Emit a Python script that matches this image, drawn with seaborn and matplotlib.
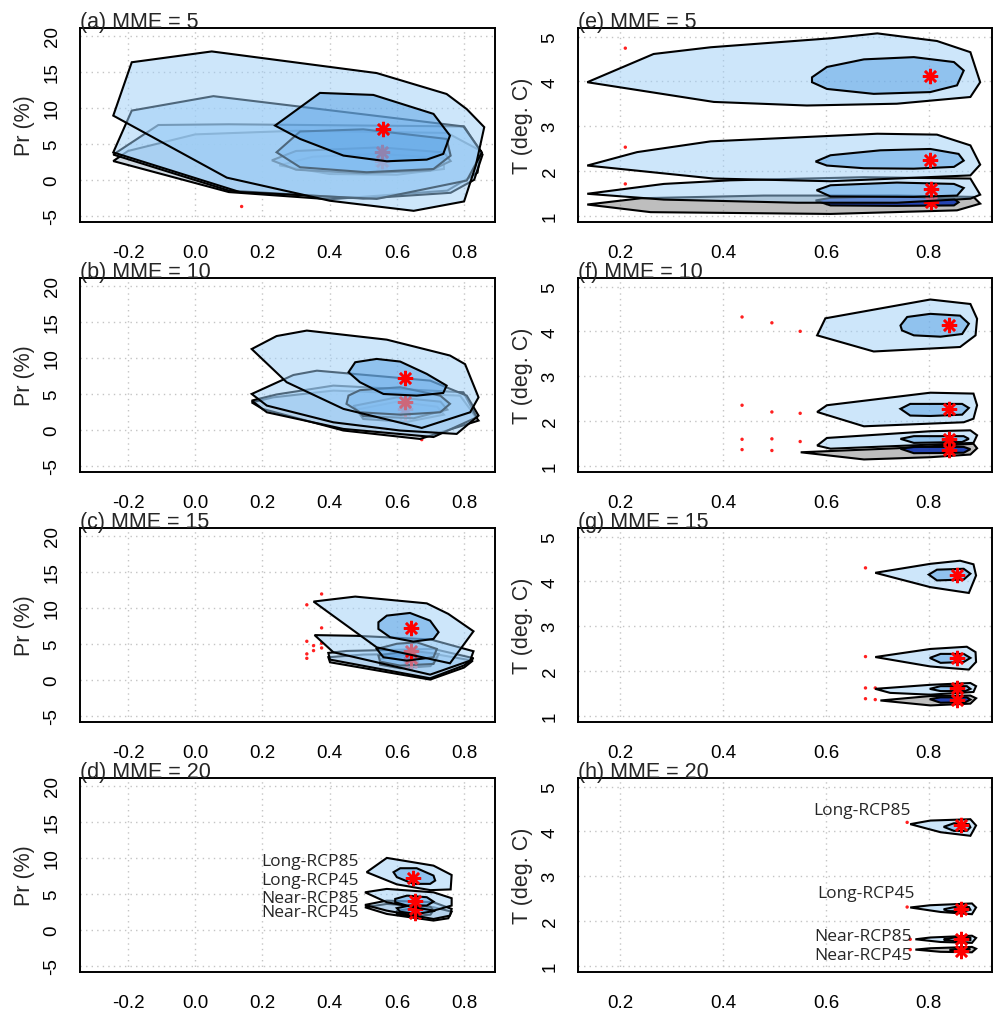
import matplotlib
matplotlib.use("Agg")
import matplotlib.pyplot as plt
import seaborn as sns
import pandas as pd
from matplotlib.colors import to_rgba

# ---------------- DATA ----------------
scenarios = ["Near-RCP45", "Near-RCP85", "Long-RCP45", "Long-RCP85"]
mme_sizes = [5, 10, 15, 20]
pr_letters = ["a", "b", "c", "d"]
t_letters = ["e", "f", "g", "h"]

pr_xticks = [-0.2, 0.0, 0.2, 0.4, 0.6, 0.8]
pr_xticklabels = ["-0.2", "0.0", "0.2", "0.4", "0.6", "0.8"]
pr_yticks = [-5, 0, 5, 10, 15, 20]
pr_yticklabels = ["-5", "0", "5", "10", "15", "20"]
t_xticks = [0.2, 0.4, 0.6, 0.8]
t_xticklabels = ["0.2", "0.4", "0.6", "0.8"]
t_yticks = [1, 2, 3, 4, 5]
t_yticklabels = ["1", "2", "3", "4", "5"]

# ---- (a) Pr, MME = 5 ----
A_L85_OUT = [(-0.244, 8.9), (-0.189, 16.3), (0.049, 17.8), (0.54, 14.8), (0.748, 11.9), (0.808, 9.8),
             (0.86, 7.3), (0.835, 2.0), (0.8, -3.0), (0.65, -4.3), (0.4, -2.9), (0.094, 0.3)]
A_L85_IN = [(0.2375, 7.52), (0.371, 12.05), (0.53, 11.77), (0.709, 9.14), (0.758, 6.13), (0.738, 3.59),
            (0.689, 2.8), (0.57, 2.57), (0.441, 3.36), (0.312, 5.67)]
A_L45_OUT = [(-0.244, 3.8), (-0.189, 9.6), (0.054, 11.6), (0.798, 7.4), (0.853, 3.8), (0.808, -0.1),
             (0.54, -2.65), (0.133, -1.7)]
A_L45_IN = [(0.242, 3.82), (0.312, 6.7), (0.5, 7.0), (0.748, 5.67), (0.76, 3.35), (0.709, 1.5),
            (0.51, 1.05), (0.312, 1.74)]
A_N85_OUT = [(-0.244, 3.5), (-0.11, 7.6), (0.1, 7.7), (0.8, 7.4), (0.855, 3.5), (0.83, 0.0),
             (0.76, -1.8), (0.5, -2.6), (0.1, -1.5)]
A_N85_IN = [(0.228, 2.7), (0.3, 4.0), (0.55, 4.5), (0.74, 3.8), (0.76, 2.6), (0.7, 1.3), (0.5, 0.9), (0.3, 1.4)]
A_N45_OUT = [(-0.244, 2.6), (-0.2, 4.0), (0.0, 6.3), (0.3, 6.8), (0.75, 6.5), (0.85, 4.0), (0.84, 1.0),
             (0.75, -1.5), (0.4, -2.7), (0.1, -1.7)]
A_N45_IN = [(0.25, 2.0), (0.35, 3.2), (0.55, 3.6), (0.74, 3.0), (0.74, 1.5), (0.6, 0.7), (0.4, 0.8)]
A_STAR_X = [0.555, 0.555, 0.555, 0.56]
A_STAR_Y = [2.1, 2.6, 3.8, 7.05]
A_DOT_X = [0.138]
A_DOT_Y = [-3.7]

# ---- (b) Pr, MME = 10 ----
B_L85_OUT = [(0.168, 11.2), (0.242, 13.0), (0.332, 13.76), (0.57, 12.5), (0.758, 10.3), (0.803, 9.1),
             (0.843, 4.5), (0.818, 2.43), (0.674, 0.26), (0.441, 2.9), (0.272, 6.6)]
B_L85_IN = [(0.456, 7.98), (0.476, 9.37), (0.54, 9.83), (0.61, 9.46), (0.689, 7.75), (0.748, 6.13),
            (0.738, 5.11), (0.659, 4.74), (0.56, 4.97), (0.49, 6.6)]
B_L45_OUT = [(0.168, 4.97), (0.292, 7.6), (0.362, 8.2), (0.699, 6.82), (0.808, 4.74), (0.843, 1.97),
             (0.778, -0.57), (0.61, -0.1), (0.411, 1.04), (0.213, 3.36)]
B_L45_IN = [(0.456, 4.74), (0.49, 5.5), (0.61, 5.9), (0.729, 4.74), (0.758, 3.6), (0.729, 2.43),
            (0.61, 2.1), (0.49, 2.43), (0.45, 3.6)]
B_N85_OUT = [(0.168, 4.05), (0.242, 4.9), (0.411, 6.13), (0.798, 5.2), (0.838, 1.74), (0.709, -1.0),
             (0.441, 0.12), (0.213, 2.43)]
B_N85_IN = [(0.47, 3.3), (0.6, 4.5), (0.73, 3.9), (0.75, 2.8), (0.65, 1.6), (0.5, 1.9)]
B_N45_OUT = [(0.168, 3.8), (0.232, 4.5), (0.411, 5.44), (0.788, 4.74), (0.843, 1.28), (0.669, -1.27),
             (0.441, -0.1), (0.2, 2.9)]
B_N45_IN = [(0.48, 2.8), (0.6, 3.9), (0.72, 3.2), (0.74, 2.1), (0.63, 1.1), (0.5, 1.5)]
B_STAR_X = [0.624, 0.624, 0.624, 0.624]
B_STAR_Y = [2.4, 2.9, 3.9, 7.15]
B_DOT_X = [0.674]
B_DOT_Y = [-1.36]

# ---- (c) Pr, MME = 15 ----
C_L85_OUT = [(0.352, 10.85), (0.476, 11.54), (0.689, 10.6), (0.753, 9.14), (0.828, 6.73), (0.758, 2.29),
             (0.54, 4.5)]
C_L85_IN = [(0.545, 7.98), (0.57, 8.9), (0.639, 9.27), (0.699, 8.2), (0.724, 6.6), (0.709, 5.67),
            (0.649, 5.3), (0.58, 5.9), (0.545, 7.05)]
C_L45_OUT = [(0.355, 6.2), (0.48, 6.1), (0.7, 5.6), (0.828, 3.96), (0.818, 2.66), (0.699, 0.72), (0.411, 3.82)]
C_L45_IN = [(0.54, 4.28), (0.6, 5.0), (0.659, 5.2), (0.719, 4.28), (0.709, 3.13), (0.629, 2.66), (0.56, 3.13)]
C_N85_OUT = [(0.396, 3.73), (0.45, 4.0), (0.709, 4.28), (0.828, 3.0), (0.8, 2.0), (0.699, 0.21), (0.401, 2.8)]
C_N85_IN = [(0.545, 3.36), (0.639, 4.05), (0.724, 3.59), (0.709, 2.2), (0.61, 1.97), (0.55, 2.52)]
C_N45_OUT = [(0.396, 3.13), (0.5, 3.5), (0.709, 3.6), (0.826, 2.66), (0.8, 1.7), (0.699, 0.03), (0.401, 2.43)]
C_N45_IN = [(0.55, 2.9), (0.64, 3.6), (0.72, 3.1), (0.7, 1.9), (0.61, 1.6), (0.55, 2.1)]
C_STAR_X = [0.642, 0.642, 0.642, 0.642]
C_STAR_Y = [2.5, 3.0, 4.05, 7.2]
C_DOT_X = [0.332, 0.376, 0.376, 0.332, 0.352, 0.352, 0.376, 0.376, 0.332, 0.332]
C_DOT_Y = [10.4, 11.9, 7.2, 5.34, 4.74, 4.05, 5.07, 4.42, 3.59, 2.98]

# ---- (d) Pr, MME = 20 ----
D_L85_OUT = [(0.51, 7.99), (0.57, 9.97), (0.709, 8.9), (0.763, 7.6), (0.76, 5.6), (0.7, 5.5), (0.6, 6.3)]
D_L85_IN = [(0.59, 7.99), (0.61, 8.54), (0.659, 8.54), (0.709, 7.52), (0.714, 6.83), (0.699, 6.37),
            (0.649, 6.37), (0.6, 7.3)]
D_L45_OUT = [(0.505, 5.2), (0.57, 5.67), (0.709, 5.2), (0.763, 4.38), (0.763, 3.36), (0.709, 2.66), (0.57, 3.82)]
D_L45_IN = [(0.595, 4.28), (0.63, 4.74), (0.689, 4.52), (0.709, 3.91), (0.689, 3.36), (0.63, 3.36), (0.595, 3.82)]
D_N85_OUT = [(0.505, 3.45), (0.57, 4.05), (0.709, 3.82), (0.763, 2.9), (0.758, 1.97), (0.709, 1.5), (0.57, 2.66)]
D_N85_IN = [(0.6, 3.0), (0.65, 3.5), (0.7, 3.2), (0.71, 2.6), (0.66, 2.2), (0.61, 2.5)]
D_N45_OUT = [(0.505, 3.13), (0.57, 3.59), (0.709, 3.13), (0.763, 2.52), (0.753, 1.6), (0.709, 1.28), (0.57, 2.2)]
D_N45_IN = [(0.6, 2.6), (0.66, 3.1), (0.71, 2.8), (0.7, 2.1), (0.64, 1.9), (0.6, 2.2)]
D_STAR_X = [0.654, 0.654, 0.654, 0.647]
D_STAR_Y = [2.3, 2.9, 4.05, 7.15]
D_DOT_X = []
D_DOT_Y = []
D_LABEL_X = [0.487, 0.487, 0.487, 0.487]
D_LABEL_Y = [2.45, 4.4, 6.9, 9.6]

# ---- (e) T, MME = 5 ----
E_L85_OUT = [(0.136, 3.98), (0.265, 4.61), (0.376, 4.76), (0.609, 4.96), (0.7, 5.07), (0.816, 4.9),
             (0.881, 4.65), (0.9, 3.98), (0.881, 3.65), (0.738, 3.5), (0.563, 3.46), (0.382, 3.54)]
E_L85_IN = [(0.573, 4.09), (0.602, 4.32), (0.674, 4.49), (0.771, 4.54), (0.849, 4.43), (0.868, 4.24),
            (0.855, 3.91), (0.803, 3.76), (0.693, 3.72), (0.602, 3.83), (0.573, 3.98)]
E_L45_OUT = [(0.136, 2.12), (0.233, 2.42), (0.376, 2.66), (0.7, 2.83), (0.816, 2.81), (0.881, 2.57),
             (0.9, 2.14), (0.881, 1.9), (0.609, 1.77), (0.382, 1.83)]
E_L45_IN = [(0.58, 2.21), (0.609, 2.35), (0.706, 2.46), (0.803, 2.49), (0.858, 2.38), (0.868, 2.23),
            (0.849, 2.09), (0.771, 2.05), (0.674, 2.06), (0.602, 2.12)]
E_N85_OUT = [(0.136, 1.49), (0.285, 1.71), (0.414, 1.79), (0.674, 1.86), (0.881, 1.83), (0.9, 1.47),
             (0.881, 1.38), (0.738, 1.29), (0.544, 1.29), (0.285, 1.36)]
E_N85_IN = [(0.582, 1.57), (0.609, 1.68), (0.738, 1.74), (0.849, 1.71), (0.868, 1.62), (0.855, 1.45),
            (0.771, 1.42), (0.609, 1.43)]
E_N45_OUT = [(0.136, 1.25), (0.24, 1.39), (0.479, 1.45), (0.738, 1.45), (0.887, 1.42), (0.9, 1.27),
             (0.855, 1.12), (0.609, 1.04), (0.259, 1.08)]
E_N45_IN = [(0.58, 1.34), (0.609, 1.4), (0.738, 1.44), (0.849, 1.38), (0.858, 1.3), (0.849, 1.23),
            (0.738, 1.22), (0.609, 1.23)]
E_STAR_X = [0.805, 0.805, 0.803, 0.803]
E_STAR_Y = [1.3, 1.6, 2.25, 4.12]
E_DOT_X = [0.21, 0.21, 0.21]
E_DOT_Y = [4.74, 2.53, 1.71]

# ---- (f) T, MME = 10 ----
F_L85_OUT = [(0.583, 3.91), (0.599, 4.29), (0.803, 4.71), (0.881, 4.61), (0.894, 4.28), (0.891, 3.91),
             (0.861, 3.65), (0.693, 3.55)]
F_L85_IN = [(0.745, 4.13), (0.758, 4.32), (0.803, 4.39), (0.861, 4.35), (0.878, 4.17), (0.865, 3.94),
            (0.823, 3.88), (0.771, 3.91), (0.748, 4.02)]
F_L45_OUT = [(0.583, 2.2), (0.602, 2.35), (0.803, 2.63), (0.887, 2.61), (0.894, 2.35), (0.887, 2.05),
             (0.868, 1.97), (0.674, 1.88)]
F_L45_IN = [(0.745, 2.27), (0.764, 2.38), (0.865, 2.38), (0.878, 2.29), (0.865, 2.14), (0.803, 2.11), (0.764, 2.12)]
F_N85_OUT = [(0.583, 1.45), (0.602, 1.62), (0.803, 1.77), (0.881, 1.79), (0.894, 1.68), (0.887, 1.51), (0.609, 1.38)]
F_N85_IN = [(0.745, 1.6), (0.771, 1.66), (0.868, 1.66), (0.878, 1.6), (0.865, 1.53), (0.771, 1.51)]
F_N45_OUT = [(0.551, 1.3), (0.738, 1.39), (0.887, 1.49), (0.894, 1.39), (0.881, 1.25), (0.803, 1.19), (0.674, 1.14)]
F_N45_IN = [(0.745, 1.38), (0.771, 1.42), (0.868, 1.42), (0.881, 1.37), (0.868, 1.29), (0.771, 1.28)]
F_STAR_X = [0.839, 0.839, 0.839, 0.839]
F_STAR_Y = [1.34, 1.6, 2.27, 4.14]
F_DOT_X = [0.437, 0.437, 0.437, 0.437, 0.495, 0.495, 0.495, 0.495, 0.55, 0.55, 0.55]
F_DOT_Y = [4.32, 2.35, 1.59, 1.36, 4.19, 2.2, 1.6, 1.34, 4.0, 2.17, 1.54]

# ---- (g) T, MME = 15 ----
G_L85_OUT = [(0.696, 4.19), (0.803, 4.39), (0.861, 4.46), (0.887, 4.38), (0.892, 4.13), (0.878, 3.74), (0.803, 3.87)]
G_L85_IN = [(0.8, 4.15), (0.816, 4.26), (0.868, 4.28), (0.881, 4.17), (0.868, 4.04), (0.816, 4.02)]
G_L45_OUT = [(0.696, 2.31), (0.803, 2.49), (0.874, 2.54), (0.891, 2.42), (0.892, 2.2), (0.878, 2.03), (0.803, 2.1)]
G_L45_IN = [(0.802, 2.29), (0.823, 2.38), (0.868, 2.38), (0.881, 2.29), (0.868, 2.2), (0.823, 2.18)]
G_N85_OUT = [(0.696, 1.6), (0.803, 1.69), (0.881, 1.73), (0.892, 1.66), (0.887, 1.53), (0.803, 1.47), (0.725, 1.51)]
G_N85_IN = [(0.802, 1.6), (0.823, 1.66), (0.874, 1.66), (0.881, 1.6), (0.871, 1.55), (0.823, 1.55)]
G_N45_OUT = [(0.706, 1.34), (0.803, 1.44), (0.881, 1.45), (0.892, 1.39), (0.881, 1.27), (0.803, 1.23)]
G_N45_IN = [(0.802, 1.37), (0.823, 1.41), (0.874, 1.41), (0.881, 1.36), (0.871, 1.3), (0.823, 1.29)]
G_STAR_X = [0.854, 0.854, 0.854, 0.854]
G_STAR_Y = [1.36, 1.62, 2.29, 4.15]
G_DOT_X = [0.677, 0.677, 0.677, 0.696, 0.677, 0.696]
G_DOT_Y = [4.3, 2.32, 1.62, 1.62, 1.38, 1.36]

# ---- (h) T, MME = 20 ----
H_L85_OUT = [(0.764, 4.16), (0.803, 4.24), (0.881, 4.27), (0.892, 4.13), (0.881, 3.9), (0.823, 3.98)]
H_L85_IN = [(0.829, 4.1), (0.849, 4.18), (0.878, 4.16), (0.881, 4.09), (0.874, 4.01), (0.849, 4.01)]
H_L45_OUT = [(0.764, 2.3), (0.803, 2.35), (0.884, 2.39), (0.892, 2.3), (0.884, 2.15), (0.823, 2.2)]
H_L45_IN = [(0.829, 2.26), (0.855, 2.32), (0.878, 2.31), (0.881, 2.25), (0.868, 2.21), (0.836, 2.22)]
H_N85_OUT = [(0.774, 1.59), (0.803, 1.63), (0.884, 1.67), (0.892, 1.62), (0.884, 1.51), (0.823, 1.53)]
H_N85_IN = [(0.829, 1.59), (0.855, 1.64), (0.881, 1.62), (0.881, 1.57), (0.855, 1.55), (0.832, 1.57)]
H_N45_OUT = [(0.774, 1.36), (0.803, 1.39), (0.884, 1.42), (0.892, 1.38), (0.884, 1.3), (0.823, 1.31)]
H_N45_IN = [(0.842, 1.36), (0.868, 1.39), (0.881, 1.37), (0.868, 1.32), (0.842, 1.33)]
H_STAR_X = [0.863, 0.863, 0.863, 0.863]
H_STAR_Y = [1.33, 1.59, 2.26, 4.13]
H_DOT_X = [0.758, 0.758, 0.764, 0.764]
H_DOT_Y = [4.2, 2.31, 1.59, 1.36]
H_LABEL_X = [0.768, 0.768, 0.772, 0.765]
H_LABEL_Y = [1.25, 1.66, 2.62, 4.48]

# ---------------- STYLE ----------------
sns.set_style("white")
plt.rcParams["font.family"] = ["Liberation Sans", "DejaVu Sans"]

OUT_BLUE = to_rgba("#9dcef7", 0.5)
IN_BLUE = to_rgba("#559fe4", 0.5)
PR_N45_OUT = to_rgba("#a3b6c9", 0.5)
T_N45_OUT = to_rgba("#7f7f7f", 0.5)
T_N45_IN = to_rgba("#0a2fb0", 0.85)

pr_panels = [
    (A_N45_OUT, A_N45_IN, A_N85_OUT, A_N85_IN, A_L45_OUT, A_L45_IN, A_L85_OUT, A_L85_IN,
     A_STAR_X, A_STAR_Y, A_DOT_X, A_DOT_Y),
    (B_N45_OUT, B_N45_IN, B_N85_OUT, B_N85_IN, B_L45_OUT, B_L45_IN, B_L85_OUT, B_L85_IN,
     B_STAR_X, B_STAR_Y, B_DOT_X, B_DOT_Y),
    (C_N45_OUT, C_N45_IN, C_N85_OUT, C_N85_IN, C_L45_OUT, C_L45_IN, C_L85_OUT, C_L85_IN,
     C_STAR_X, C_STAR_Y, C_DOT_X, C_DOT_Y),
    (D_N45_OUT, D_N45_IN, D_N85_OUT, D_N85_IN, D_L45_OUT, D_L45_IN, D_L85_OUT, D_L85_IN,
     D_STAR_X, D_STAR_Y, D_DOT_X, D_DOT_Y),
]
t_panels = [
    (E_N45_OUT, E_N45_IN, E_N85_OUT, E_N85_IN, E_L45_OUT, E_L45_IN, E_L85_OUT, E_L85_IN,
     E_STAR_X, E_STAR_Y, E_DOT_X, E_DOT_Y),
    (F_N45_OUT, F_N45_IN, F_N85_OUT, F_N85_IN, F_L45_OUT, F_L45_IN, F_L85_OUT, F_L85_IN,
     F_STAR_X, F_STAR_Y, F_DOT_X, F_DOT_Y),
    (G_N45_OUT, G_N45_IN, G_N85_OUT, G_N85_IN, G_L45_OUT, G_L45_IN, G_L85_OUT, G_L85_IN,
     G_STAR_X, G_STAR_Y, G_DOT_X, G_DOT_Y),
    (H_N45_OUT, H_N45_IN, H_N85_OUT, H_N85_IN, H_L45_OUT, H_L45_IN, H_L85_OUT, H_L85_IN,
     H_STAR_X, H_STAR_Y, H_DOT_X, H_DOT_Y),
]

W, H = 997, 1012
fig = plt.figure(figsize=(W / 100, H / 100), dpi=100)

row_top_px = [29, 279, 529, 779]
ax_h_px = 194
col_left_px = [80, 578]
col_w_px = [415, 414]


def make_ax(col, row):
    l = col_left_px[col] / W
    b = 1 - (row_top_px[row] + ax_h_px) / H
    return fig.add_axes([l, b, col_w_px[col] / W, ax_h_px / H])


def style_ax(ax, xlim, ylim, xt, xtl, yt, ytl, ylabel, title, ylab_x):
    ax.set_xlim(*xlim)
    ax.set_ylim(*ylim)
    ax.set_xticks(xt)
    ax.set_xticklabels(xtl)
    ax.set_yticks(yt)
    ax.set_yticklabels(ytl, rotation=90, va="center")
    ax.grid(True, ls=(0, (1, 3)), color="#c4c4c4", lw=1.0, zorder=0)
    ax.set_axisbelow(True)
    ax.tick_params(direction="out", length=6, width=1.2, labelsize=13.5, colors="black")
    ax.tick_params(axis="x", pad=10)
    ax.tick_params(axis="y", pad=8)
    for s in ax.spines.values():
        s.set_linewidth(1.4)
        s.set_color("black")
    ax.set_ylabel(ylabel, fontsize=15.5)
    ax.yaxis.set_label_coords(ylab_x, 0.5)
    ax.yaxis.label.set_va("center")
    ax.set_title(title, loc="left", fontsize=15.5, pad=1)
    ax.set_xlabel("")


def draw_panel(ax, panel, colors):
    polys = panel[:8]
    sx, sy, dx, dy = panel[8:]
    if len(dx):
        dots = pd.DataFrame({"x": dx, "y": dy})
        sns.scatterplot(data=dots, x="x", y="y", ax=ax, color="#ff2020", s=6,
                        edgecolor="none", zorder=1.5, legend=False)
    for i in range(4):
        out, inn = polys[2 * i], polys[2 * i + 1]
        c_out, c_in = colors[i]
        z = 2 + 3 * i
        ox, oy = zip(*out)
        ax.fill(ox, oy, facecolor=c_out, edgecolor="black", lw=1.5, zorder=z)
        ix, iy = zip(*inn)
        ax.fill(ix, iy, facecolor=c_in, edgecolor="black", lw=1.5, zorder=z + 1)
        ax.plot([sx[i]], [sy[i]], ls="none", marker=(8, 2, 0), ms=11, mew=1.8,
                color="red", zorder=z + 2)


pr_colors = [(PR_N45_OUT, IN_BLUE), (OUT_BLUE, IN_BLUE), (OUT_BLUE, IN_BLUE), (OUT_BLUE, IN_BLUE)]
t_colors = [(T_N45_OUT, T_N45_IN), (OUT_BLUE, IN_BLUE), (OUT_BLUE, IN_BLUE), (OUT_BLUE, IN_BLUE)]

for r in range(4):
    ax = make_ax(0, r)
    draw_panel(ax, pr_panels[r], pr_colors)
    style_ax(ax, (-0.343, 0.892), (-5.85, 21.05), pr_xticks, pr_xticklabels,
             pr_yticks, pr_yticklabels, "Pr (%)", f"({pr_letters[r]}) MME = {mme_sizes[r]}", -0.133)
    if r == 3:
        for name, lx, ly in zip(scenarios, D_LABEL_X, D_LABEL_Y):
            ax.text(lx, ly, name, ha="right", va="center", fontsize=12.5,
                    family=["Open Sans", "DejaVu Sans"], zorder=20)

for r in range(4):
    ax = make_ax(1, r)
    draw_panel(ax, t_panels[r], t_colors)
    style_ax(ax, (0.118, 0.923), (0.86, 5.19), t_xticks, t_xticklabels,
             t_yticks, t_yticklabels, "T (deg. C)", f"({t_letters[r]}) MME = {mme_sizes[r]}", -0.133)
    if r == 3:
        for name, lx, ly in zip(scenarios, H_LABEL_X, H_LABEL_Y):
            ax.text(lx, ly, name, ha="right", va="center", fontsize=12.5,
                    family=["Open Sans", "DejaVu Sans"], zorder=20)

fig.savefig("out.png", dpi=100)
